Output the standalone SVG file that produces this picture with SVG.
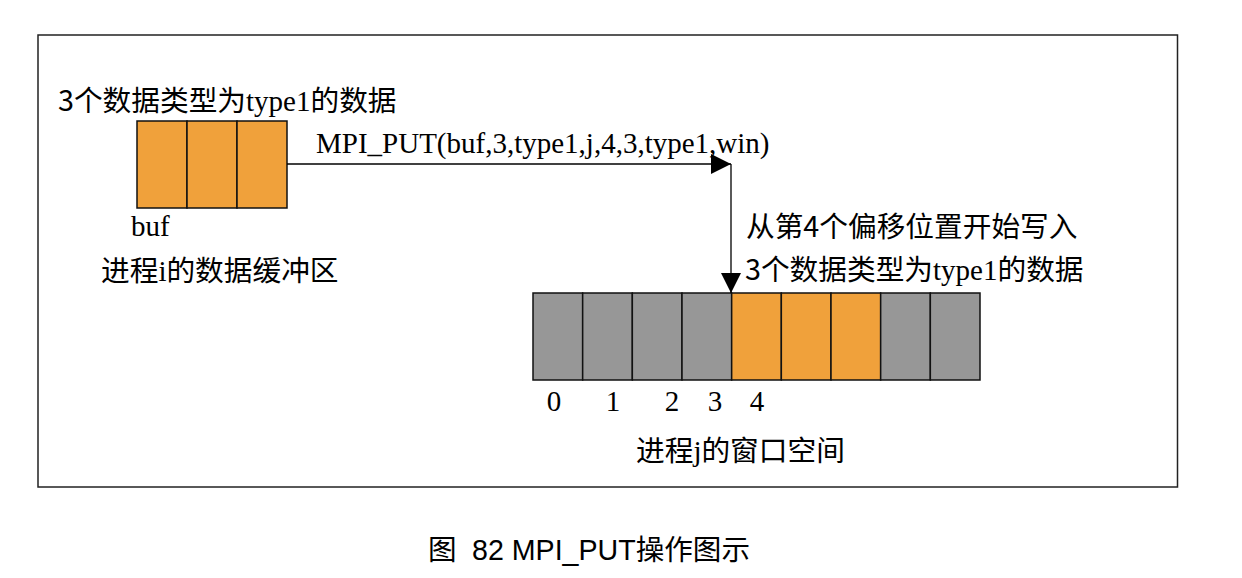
<svg xmlns="http://www.w3.org/2000/svg" width="1242" height="578" viewBox="0 0 1242 578">
<defs>
<style>
.frame{fill:#fff;stroke:#222;stroke-width:1.5}
.or{fill:#F0A13B;stroke:#111;stroke-width:1.5}
.gr{fill:#979797;stroke:#111;stroke-width:1.5}
.ln{fill:none;stroke:#000;stroke-width:1.3}
.t{font-family:"Liberation Serif","Noto Sans CJK SC",serif;font-size:29px;fill:#000}
.c{font-family:"Noto Sans CJK SC",sans-serif;font-size:28.7px}
.cap{font-family:"Liberation Sans","Noto Sans CJK SC",sans-serif;font-size:28.6px;fill:#000}
</style>
<marker id="ah" markerWidth="20" markerHeight="20" refX="20" refY="10" orient="auto" markerUnits="userSpaceOnUse" viewBox="0 0 20 20">
<path d="M0,0 L20,10 L0,20 Z" fill="#000"/>
</marker>
</defs>
<rect width="1242" height="578" fill="#fff"/>
<rect class="frame" x="38" y="35" width="1139.5" height="452"/>

<g id="buf">
<rect class="or" x="137" y="121" width="50" height="87"/>
<rect class="or" x="187" y="121" width="50" height="87"/>
<rect class="or" x="237" y="121" width="50" height="87"/>
<text class="t" x="58" y="111"><tspan class="c">3个数据类型为</tspan>type1<tspan class="c">的数据</tspan></text>
<text class="t" x="131" y="236">buf</text>
<text class="t" x="101" y="281"><tspan class="c">进程</tspan>i<tspan class="c">的数据缓冲区</tspan></text>
</g>

<g id="win">
<rect class="gr" x="533" y="293" width="49.67" height="87"/>
<rect class="gr" x="582.67" y="293" width="49.67" height="87"/>
<rect class="gr" x="632.33" y="293" width="49.67" height="87"/>
<rect class="gr" x="682" y="293" width="49.67" height="87"/>
<rect class="or" x="731.67" y="293" width="49.67" height="87"/>
<rect class="or" x="781.33" y="293" width="49.67" height="87"/>
<rect class="or" x="831" y="293" width="49.67" height="87"/>
<rect class="gr" x="880.67" y="293" width="49.67" height="87"/>
<rect class="gr" x="930.33" y="293" width="49.67" height="87"/>
<text class="t" x="554" y="411" text-anchor="middle">0</text>
<text class="t" x="613" y="411" text-anchor="middle">1</text>
<text class="t" x="672" y="411" text-anchor="middle">2</text>
<text class="t" x="715" y="411" text-anchor="middle">3</text>
<text class="t" x="757" y="411" text-anchor="middle">4</text>
<text class="t" x="636" y="461"><tspan class="c">进程</tspan>j<tspan class="c">的窗口空间</tspan></text>
<text class="t" x="746" y="237"><tspan class="c">从第4个偏移位置开始写入</tspan></text>
<text class="t" x="745" y="280"><tspan class="c">3个数据类型为</tspan>type1<tspan class="c">的数据</tspan></text>
</g>

<g id="connectors">
<line class="ln" x1="287" y1="164" x2="731" y2="164" marker-end="url(#ah)"/>
<line class="ln" x1="731" y1="164" x2="731" y2="293" marker-end="url(#ah)"/>
<text class="t" x="316" y="153">MPI_PUT(buf,3,type1,j,4,3,type1,win)</text>
</g>

<text class="cap" x="428" y="560">图<tspan x="472">82 MPI_PUT操作图示</tspan></text>
</svg>
